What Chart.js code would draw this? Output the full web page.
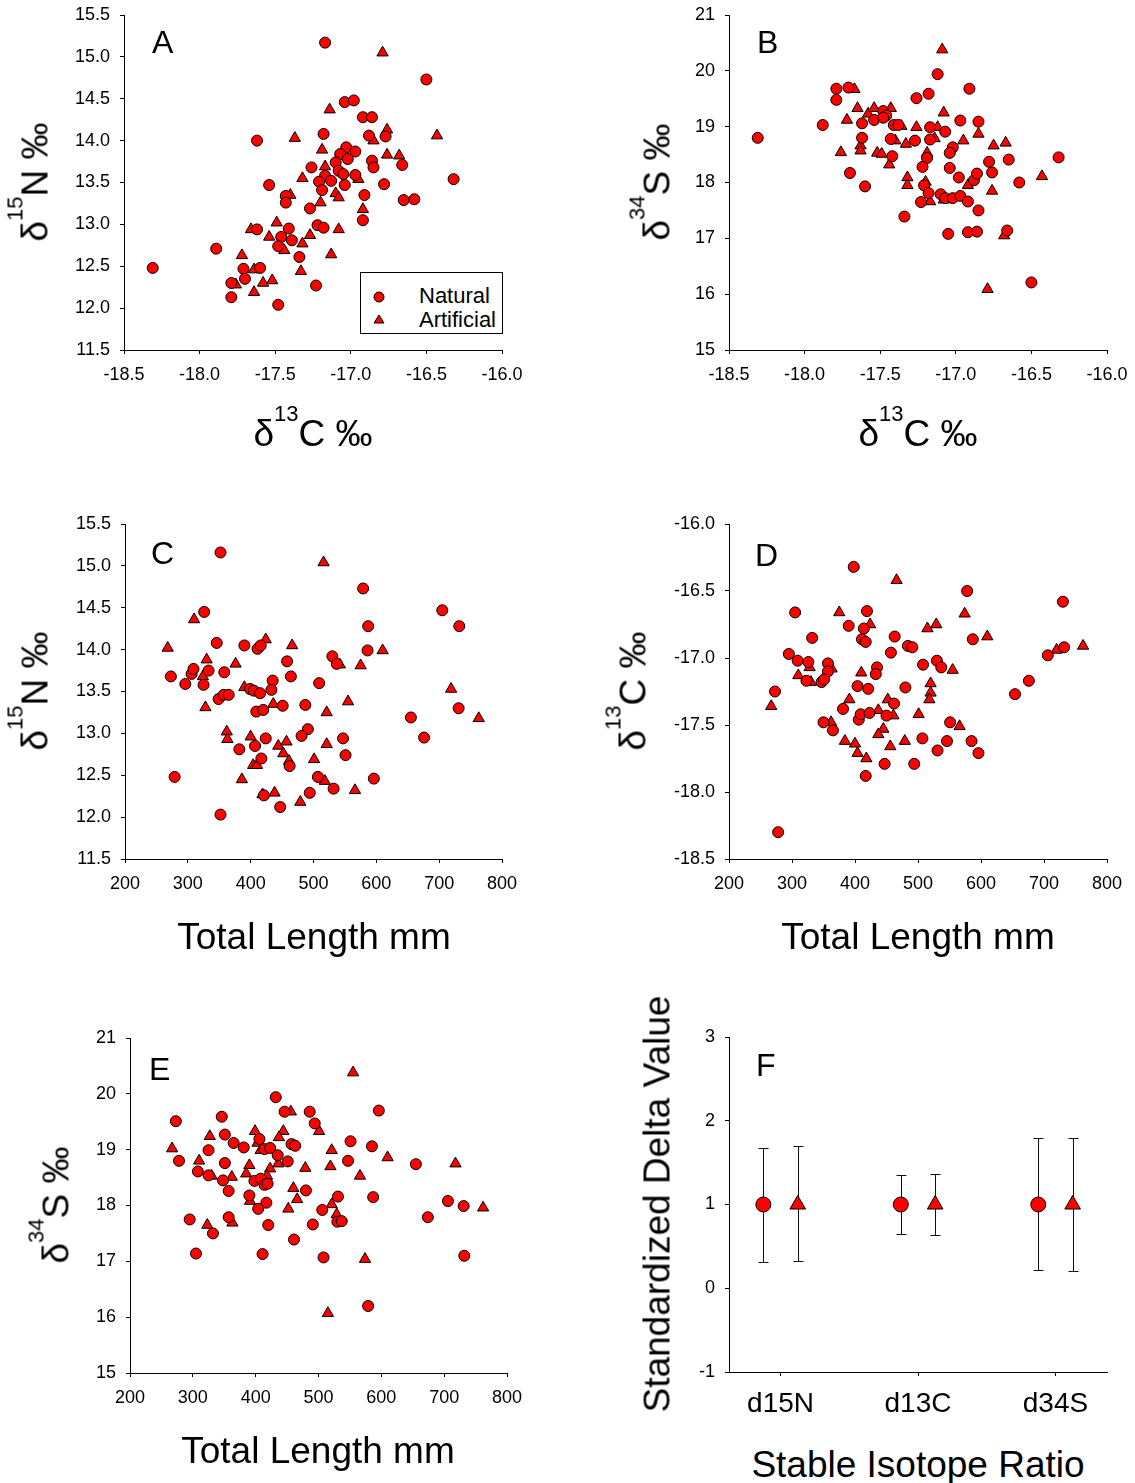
<!DOCTYPE html>
<html><head><meta charset="utf-8">
<script src="https://cdn.jsdelivr.net/npm/chart.js@4.4.0/dist/chart.umd.min.js"></script>
<style>
html,body{margin:0;padding:0;background:#fff;}
body{width:1135px;height:1483px;position:relative;overflow:hidden;font-family:"Liberation Sans",Arial,sans-serif;color:#000;}
canvas{position:absolute;}
.t{position:absolute;font-size:37px;line-height:37px;white-space:nowrap;transform:translate(-50%,-50%);}
.t.v{transform:translate(-50%,-50%) rotate(-90deg);}
.t sup{font-size:22px;line-height:0;vertical-align:baseline;position:relative;top:-25px;}
.letter{position:absolute;font-size:32px;line-height:32px;}
.legend{position:absolute;border:1px solid #000;background:#fff;box-sizing:border-box;}
.lg{position:absolute;font-size:22px;line-height:22px;white-space:nowrap;}
</style>
</head><body>
<script>
// ---------------- DATA ----------------
// Panel A: d13C (x) vs d15N (y)
const aNatural = [[-17.17,15.17],[-16.50,14.73],[-17.04,14.46],[-16.98,14.48],[-16.92,14.28],[-16.86,14.28],[-17.18,14.08],[-17.62,14.00],[-16.88,14.06],[-16.77,14.05],[-17.03,13.92],[-16.97,13.87],[-17.07,13.84],[-17.02,13.78],[-17.10,13.74],[-16.86,13.76],[-16.85,13.68],[-16.66,13.71],[-17.26,13.68],[-17.08,13.64],[-17.05,13.60],[-17.17,13.58],[-16.97,13.59],[-17.21,13.51],[-17.13,13.52],[-17.04,13.47],[-17.54,13.47],[-16.78,13.48],[-16.32,13.54],[-17.19,13.41],[-17.43,13.34],[-17.43,13.26],[-16.91,13.35],[-16.65,13.29],[-16.58,13.30],[-17.27,13.19],[-16.92,13.05],[-17.22,12.99],[-17.18,12.96],[-17.62,12.94],[-17.41,12.95],[-17.46,12.85],[-17.39,12.81],[-17.48,12.74],[-17.89,12.71],[-17.34,12.61],[-18.31,12.48],[-17.71,12.47],[-17.60,12.48],[-17.70,12.35],[-17.79,12.30],[-17.23,12.27],[-17.79,12.13],[-17.48,12.04]];
const aArtificial = [[-16.79,15.05],[-17.14,14.37],[-17.37,14.03],[-16.76,14.13],[-16.43,14.06],[-16.85,14.00],[-17.19,13.89],[-16.76,13.83],[-16.68,13.82],[-17.17,13.69],[-17.32,13.55],[-16.95,13.54],[-17.40,13.35],[-17.10,13.37],[-17.08,13.32],[-17.20,13.26],[-16.92,13.18],[-17.66,12.94],[-17.49,13.02],[-17.08,12.94],[-17.54,12.85],[-17.27,12.87],[-17.44,12.69],[-17.32,12.77],[-17.13,12.64],[-17.72,12.63],[-17.64,12.46],[-17.33,12.44],[-17.76,12.28],[-17.58,12.30],[-17.52,12.33],[-17.64,12.19]];
// Panel B: d13C (x) vs d34S (y)
const bNatural = [[-18.31,18.80],[-17.88,19.03],[-17.79,19.68],[-17.79,19.48],[-17.71,19.70],[-17.12,19.94],[-17.18,19.59],[-17.26,19.51],[-16.91,19.68],[-17.62,19.06],[-17.54,19.12],[-17.48,19.28],[-17.46,19.20],[-17.48,19.16],[-17.41,19.03],[-17.38,19.03],[-17.62,18.80],[-17.43,18.78],[-17.27,18.75],[-17.17,18.99],[-17.17,18.77],[-17.07,18.91],[-16.97,19.11],[-16.85,19.09],[-17.42,18.47],[-17.19,18.44],[-17.02,18.63],[-17.04,18.53],[-17.22,18.28],[-17.04,18.26],[-17.70,18.17],[-17.60,17.93],[-17.21,17.95],[-17.18,17.81],[-16.98,18.09],[-16.88,18.04],[-16.86,18.16],[-16.78,18.37],[-16.76,18.18],[-16.65,18.41],[-16.32,18.45],[-16.58,18.00],[-17.10,17.79],[-17.07,17.72],[-17.02,17.72],[-16.97,17.76],[-16.92,17.66],[-17.23,17.65],[-16.85,17.50],[-17.34,17.39],[-17.05,17.08],[-16.92,17.11],[-16.86,17.12],[-16.66,17.14],[-16.50,16.21]];
const bArtificial = [[-17.09,20.38],[-17.67,19.67],[-17.65,19.33],[-17.58,19.23],[-17.54,19.33],[-17.43,19.33],[-17.72,19.12],[-17.08,19.25],[-17.36,19.01],[-17.26,18.99],[-17.12,18.99],[-17.14,18.79],[-17.40,18.75],[-17.33,18.69],[-16.95,18.75],[-16.85,18.87],[-16.75,18.66],[-16.67,18.71],[-17.76,18.54],[-17.63,18.66],[-17.63,18.57],[-17.52,18.53],[-17.49,18.51],[-17.19,18.53],[-17.44,18.32],[-17.32,18.09],[-17.32,17.95],[-17.20,18.01],[-16.92,17.95],[-16.43,18.11],[-16.76,17.85],[-17.17,17.66],[-17.08,17.69],[-16.68,17.05],[-16.79,16.09]];
// Panel C: total length (x) vs d15N (y)
const cNatural = [[352,15.16],[579,14.73],[705,14.47],[732,14.28],[587,14.28],[326,14.45],[346,14.08],[390,14.05],[411,14.01],[416,14.05],[586,13.99],[458,13.86],[530,13.92],[537,13.83],[273,13.68],[296,13.59],[306,13.71],[309,13.77],[325,13.58],[333,13.75],[358,13.73],[349,13.41],[357,13.46],[365,13.46],[399,13.53],[405,13.51],[415,13.48],[435,13.63],[433,13.52],[464,13.68],[509,13.60],[409,13.26],[420,13.28],[451,13.33],[487,13.34],[279,12.48],[352,12.03],[731,13.30],[655,13.19],[676,12.95],[491,13.05],[481,12.97],[424,12.94],[407,12.85],[382,12.81],[547,12.94],[551,12.74],[417,12.70],[462,12.61],[507,12.48],[596,12.46],[532,12.34],[494,12.29],[421,12.26],[447,12.12]];
const cArtificial = [[516,15.04],[310,14.36],[268,14.02],[424,14.12],[466,14.05],[610,13.99],[330,13.88],[376,13.83],[324,13.68],[542,13.82],[575,13.81],[390,13.55],[328,13.31],[436,13.35],[521,13.25],[555,13.38],[719,13.53],[763,13.18],[362,13.02],[363,12.93],[400,12.96],[444,12.85],[457,12.90],[452,12.76],[461,12.67],[521,12.87],[501,12.69],[404,12.62],[410,12.62],[386,12.45],[518,12.43],[566,12.32],[419,12.27],[438,12.29],[479,12.18]];
// Panel D: total length (x) vs d13C (y)
const dNatural = [[398,-16.32],[578,-16.50],[730,-16.58],[305,-16.66],[419,-16.65],[390,-16.76],[414,-16.78],[332,-16.85],[411,-16.86],[417,-16.88],[463,-16.84],[587,-16.86],[484,-16.91],[491,-16.92],[457,-16.96],[295,-16.97],[309,-17.02],[326,-17.03],[357,-17.04],[357,-17.10],[435,-17.07],[433,-17.12],[508,-17.05],[530,-17.02],[537,-17.07],[323,-17.17],[347,-17.18],[351,-17.16],[706,-16.98],[732,-16.92],[676,-17.17],[654,-17.27],[273,-17.25],[404,-17.21],[421,-17.23],[480,-17.22],[462,-17.34],[381,-17.38],[406,-17.46],[409,-17.42],[423,-17.41],[450,-17.43],[350,-17.48],[365,-17.54],[551,-17.48],[507,-17.60],[546,-17.62],[585,-17.62],[531,-17.69],[596,-17.71],[447,-17.79],[494,-17.79],[417,-17.88],[278,-18.30]];
const dArtificial = [[466,-16.42],[375,-16.66],[424,-16.75],[515,-16.78],[529,-16.75],[574,-16.67],[610,-16.84],[762,-16.91],[720,-16.94],[328,-17.07],[363,-17.08],[310,-17.13],[330,-17.18],[410,-17.11],[555,-17.09],[520,-17.19],[520,-17.26],[518,-17.31],[267,-17.36],[391,-17.31],[452,-17.31],[437,-17.39],[461,-17.43],[501,-17.42],[362,-17.48],[445,-17.53],[437,-17.57],[566,-17.51],[384,-17.62],[400,-17.64],[456,-17.66],[479,-17.62],[404,-17.71],[418,-17.75]];
// Panel E: total length (x) vs d34S (y)
const eNatural = [[432,19.94],[446,19.68],[486,19.68],[596,19.70],[346,19.59],[273,19.51],[494,19.47],[351,19.27],[406,19.19],[365,19.12],[381,19.04],[457,19.10],[463,19.07],[551,19.15],[585,19.06],[325,18.99],[414,19.01],[423,19.03],[278,18.80],[351,18.76],[435,18.90],[451,18.79],[547,18.80],[655,18.74],[308,18.61],[325,18.54],[348,18.45],[398,18.44],[408,18.48],[414,18.37],[419,18.39],[357,18.26],[390,18.18],[480,18.27],[531,18.16],[587,18.15],[417,18.05],[404,17.94],[706,18.08],[731,17.99],[506,17.92],[674,17.79],[295,17.75],[357,17.79],[332,17.50],[420,17.65],[491,17.66],[530,17.71],[537,17.72],[461,17.39],[305,17.14],[411,17.13],[508,17.07],[732,17.10],[579,16.20]];
const eArtificial = [[555,20.38],[456,19.68],[399,19.33],[444,19.33],[327,19.24],[437,19.22],[501,19.33],[403,19.12],[408,18.99],[267,19.02],[521,18.99],[610,18.86],[718,18.75],[310,18.80],[390,18.72],[436,18.75],[423,18.66],[385,18.57],[479,18.67],[519,18.70],[330,18.53],[362,18.51],[418,18.53],[566,18.53],[460,18.31],[466,18.11],[391,18.08],[452,17.94],[521,18.02],[529,17.84],[762,17.96],[323,17.65],[363,17.69],[574,17.04],[515,16.07]];
// Panel F: standardized delta values, mean with low/high error limits
const fCategories = ['d15N','d13C','d34S'];
const fNaturalMean = [1,1,1];
const fNaturalLow  = [0.31,0.65,0.22];
const fNaturalHigh = [1.68,1.35,1.79];
const fArtificialMean = [1,1,1];
const fArtificialLow  = [0.32,0.63,0.21];
const fArtificialHigh = [1.70,1.37,1.80];
// Tick values
const c13Ticks = [-18.5,-18.0,-17.5,-17.0,-16.5,-16.0];
const n15Ticks = [11.5,12.0,12.5,13.0,13.5,14.0,14.5,15.0,15.5];
const s34Ticks = [15,16,17,18,19,20,21];
const lengthTicks = [200,300,400,500,600,700,800];
const c13TicksD = [-18.5,-18.0,-17.5,-17.0,-16.5,-16.0];
const fYTicks = [-1,0,1,2,3];
const fXTicks = [1,2,3];
const seriesNames = ['Natural','Artificial'];

// ---------------- RENDERING ----------------
const FONT = '"Liberation Sans", Arial, sans-serif';
const PADL = 100, PADT = 40, PADR = 70, PADB = 60;

function axis(ticks, decimals, isX, extra) {
  return Object.assign({
    type: 'linear', min: ticks[0], max: ticks[ticks.length - 1],
    afterBuildTicks(s) { s.ticks = ticks.map(v => ({ value: v })); },
    afterFit(s) { if (isX) s.height = PADB; else s.width = PADL; },
    ticks: { color: '#000', font: { family: FONT, size: 18 }, padding: 10,
      callback: (v) => Number(v).toFixed(decimals) },
    grid: { display: true, drawOnChartArea: false, drawTicks: true, tickLength: 4, color: '#000', lineWidth: 1 },
    border: { display: true, color: '#000', width: 1 }
  }, extra || {});
}

function pts(arr) { return arr.map(p => ({ x: p[0], y: p[1] })); }

function series(label, data, style, r) {
  return { label, data, pointStyle: style, pointRadius: r, pointHoverRadius: r,
    backgroundColor: '#ff0000', borderColor: '#000', borderWidth: 1, showLine: false };
}

function makeCanvas(plot) {
  const c = document.createElement('canvas');
  const w = plot.r - plot.l + PADL + PADR, h = plot.b - plot.t + PADT + PADB;
  c.width = w; c.height = h;
  c.style.left = (plot.l - PADL) + 'px'; c.style.top = (plot.t - PADT) + 'px';
  c.style.width = w + 'px'; c.style.height = h + 'px';
  document.body.appendChild(c);
  return c;
}

function scatterPanel(plot, nat, art, xScale, yScale) {
  const c = makeCanvas(plot);
  return new Chart(c, {
    type: 'scatter',
    data: { datasets: [ series(seriesNames[0], pts(nat), 'circle', 5.5), series(seriesNames[1], pts(art), 'triangle', 6.5) ] },
    options: {
      responsive: false, animation: false, devicePixelRatio: 1,
      layout: { padding: { left: 0, top: PADT, right: PADR, bottom: 0 } },
      plugins: { legend: { display: false }, tooltip: { enabled: false } },
      scales: { x: xScale, y: yScale }
    }
  });
}

scatterPanel({l:124,r:502,t:15,b:350}, aNatural, aArtificial, axis(c13Ticks,1,true), axis(n15Ticks,1,false));
scatterPanel({l:729,r:1107,t:15,b:350}, bNatural, bArtificial, axis(c13Ticks,1,true), axis(s34Ticks,0,false));
scatterPanel({l:125,r:502,t:524,b:859}, cNatural, cArtificial, axis(lengthTicks,0,true), axis(n15Ticks,1,false));
scatterPanel({l:729,r:1107,t:524,b:859}, dNatural, dArtificial, axis(lengthTicks,0,true), axis(c13TicksD,1,false));
scatterPanel({l:130,r:507,t:1038,b:1373}, eNatural, eArtificial, axis(lengthTicks,0,true), axis(s34Ticks,0,false));

// Panel F with error bars
const errorBars = {
  id: 'errorBars',
  beforeDatasetsDraw(chart) {
    const ctx = chart.ctx, xs = chart.scales.x, ys = chart.scales.y;
    const lows = [fNaturalLow, fArtificialLow], highs = [fNaturalHigh, fArtificialHigh];
    ctx.save();
    ctx.strokeStyle = '#111'; ctx.lineWidth = 1;
    chart.data.datasets.forEach((ds, di) => {
      ds.data.forEach((p, i) => {
        const x = Math.round(xs.getPixelForValue(p.x)) + 0.5;
        const y1 = Math.round(ys.getPixelForValue(lows[di][i])) + 0.5;
        const y2 = Math.round(ys.getPixelForValue(highs[di][i])) + 0.5;
        ctx.beginPath();
        ctx.moveTo(x, y1); ctx.lineTo(x, y2);
        ctx.moveTo(x - 5, y1); ctx.lineTo(x + 5, y1);
        ctx.moveTo(x - 5, y2); ctx.lineTo(x + 5, y2);
        ctx.stroke();
      });
    });
    ctx.restore();
  }
};
(function () {
  const plot = {l:729,r:1107,t:1037,b:1372};
  const c = makeCanvas(plot);
  const natData = fCategories.map((k, i) => ({ x: fXTicks[i] - 0.125, y: fNaturalMean[i] }));
  const artData = fCategories.map((k, i) => ({ x: fXTicks[i] + 0.125, y: fArtificialMean[i] }));
  const xs = axis(fXTicks, 0, true, { min: 0.625, max: 3.375 });
  xs.ticks = Object.assign({}, xs.ticks, { font: { family: FONT, size: 28 }, padding: 11,
    callback: (v) => fCategories[fXTicks.indexOf(v)] });
  new Chart(c, {
    type: 'scatter',
    data: { datasets: [ series(seriesNames[0], natData, 'circle', 7.5), series(seriesNames[1], artData, 'triangle', 9) ] },
    options: {
      responsive: false, animation: false, devicePixelRatio: 1,
      layout: { padding: { left: 0, top: PADT, right: PADR, bottom: 0 } },
      plugins: { legend: { display: false }, tooltip: { enabled: false } },
      scales: { x: xs, y: axis(fYTicks, 0, false) }
    },
    plugins: [errorBars]
  });
})();

// ---------------- TEXT ----------------
function addText(html, cls, x, y) {
  const d = document.createElement('div');
  d.className = cls; d.innerHTML = html;
  d.style.left = x + 'px'; d.style.top = y + 'px';
  document.body.appendChild(d);
  return d;
}
// y axis titles
addText('&delta;<sup>15</sup>N &permil;', 't v', 35, 182);
addText('&delta;<sup>34</sup>S &permil;', 't v', 657, 182);
addText('&delta;<sup>15</sup>N &permil;', 't v', 35, 691);
addText('&delta;<sup>13</sup>C &permil;', 't v', 633, 691);
addText('&delta;<sup>34</sup>S &permil;', 't v', 56, 1205);
addText('Standardized Delta Value', 't v', 657, 1204);
// x axis titles
addText('&delta;<sup>13</sup>C &permil;', 't', 313, 433);
addText('&delta;<sup>13</sup>C &permil;', 't', 918, 433);
addText('Total Length mm', 't', 314, 936);
addText('Total Length mm', 't', 918, 936);
addText('Total Length mm', 't', 318, 1450);
addText('Stable Isotope Ratio', 't', 918, 1464);
// panel letters
addText('A', 'letter', 152, 26);
addText('B', 'letter', 757, 26);
addText('C', 'letter', 151, 537);
addText('D', 'letter', 755, 539);
addText('E', 'letter', 149, 1053);
addText('F', 'letter', 756, 1049);
// legend (panel A)
const lg = document.createElement('div');
lg.className = 'legend';
Object.assign(lg.style, { left: '360px', top: '272px', width: '143px', height: '62px' });
document.body.appendChild(lg);
const svgNS = 'http://www.w3.org/2000/svg';
const mk = document.createElementNS(svgNS, 'svg');
mk.setAttribute('width', '30'); mk.setAttribute('height', '60');
Object.assign(mk.style, { position: 'absolute', left: '364px', top: '274px' });
mk.innerHTML = '<circle cx="15" cy="23" r="5" fill="#ff0000" stroke="#000" stroke-width="1"/>' +
  '<polygon points="15,41 20,49 10,49" fill="#ff0000" stroke="#000" stroke-width="1"/>';
document.body.appendChild(mk);
addText(seriesNames[0], 'lg', 419, 285);
addText(seriesNames[1], 'lg', 419, 309);
</script>
</body></html>
